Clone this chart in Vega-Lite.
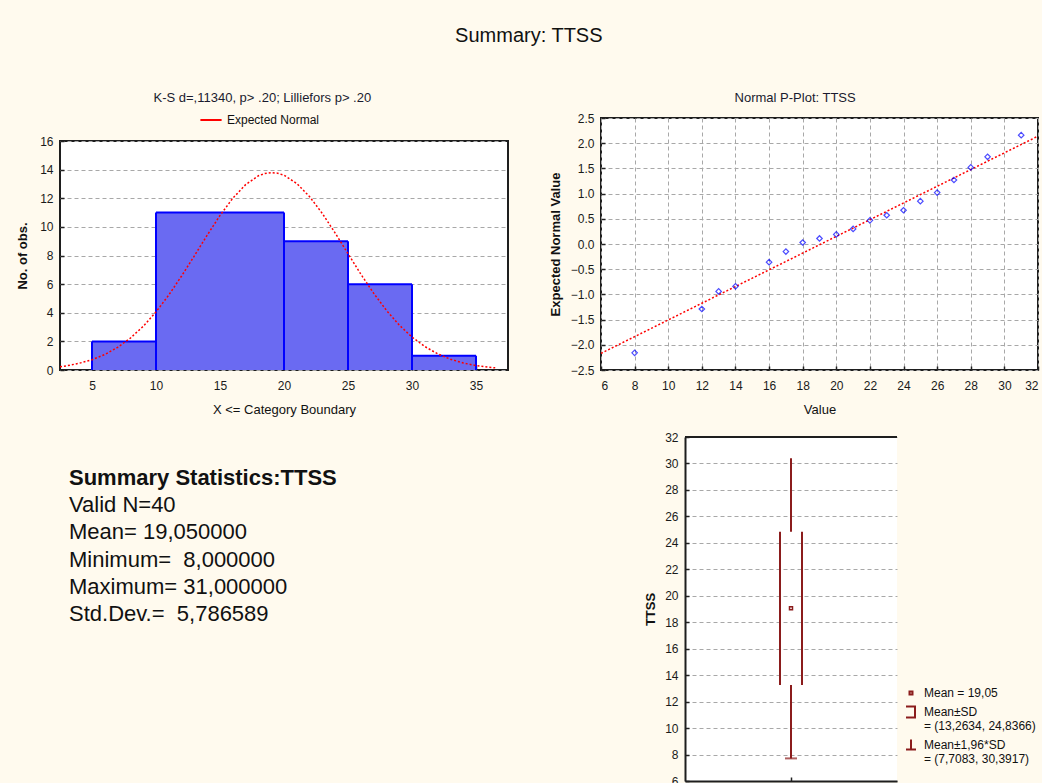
{
  "$schema": "https://vega.github.io/schema/vega-lite/v6.json",
  "background": "#fffaee",
  "padding": {"left": 15, "top": 26, "right": 0, "bottom": 0},
  "title": {"text": "Summary: TTSS", "fontSize": 20, "fontWeight": "normal", "font": "Liberation Sans", "color": "#111111", "anchor": "middle", "offset": 44},
  "datasets": {
    "hist": [
      {"lo": 5, "hi": 10, "n": 2},
      {"lo": 10, "hi": 15, "n": 11},
      {"lo": 15, "hi": 20, "n": 11},
      {"lo": 20, "hi": 25, "n": 9},
      {"lo": 25, "hi": 30, "n": 6},
      {"lo": 30, "hi": 35, "n": 1}
    ],
    "curve": [
      {"x": 2.5, "count": 0.23}, {"x": 3, "count": 0.29}, {"x": 4, "count": 0.47}, {"x": 5, "count": 0.72},
      {"x": 6, "count": 1.08}, {"x": 7, "count": 1.58}, {"x": 8, "count": 2.23}, {"x": 9, "count": 3.05},
      {"x": 10, "count": 4.06}, {"x": 11, "count": 5.24}, {"x": 12, "count": 6.57}, {"x": 13, "count": 7.98},
      {"x": 14, "count": 9.42}, {"x": 15, "count": 10.8}, {"x": 16, "count": 12.0}, {"x": 17, "count": 12.95},
      {"x": 18, "count": 13.57}, {"x": 18.5, "count": 13.73}, {"x": 19, "count": 13.79}, {"x": 19.5, "count": 13.75},
      {"x": 20, "count": 13.61}, {"x": 21, "count": 13.03}, {"x": 22, "count": 12.11}, {"x": 23, "count": 10.93},
      {"x": 24, "count": 9.57}, {"x": 25, "count": 8.13}, {"x": 26, "count": 6.7}, {"x": 27, "count": 5.37},
      {"x": 28, "count": 4.17}, {"x": 29, "count": 3.14}, {"x": 30, "count": 2.3}, {"x": 31, "count": 1.64},
      {"x": 32, "count": 1.13}, {"x": 33, "count": 0.75}, {"x": 34, "count": 0.49}, {"x": 35, "count": 0.31},
      {"x": 36, "count": 0.19}, {"x": 36.5, "count": 0.15}
    ],
    "pp": [
      {"value": 8, "z": -2.16}, {"value": 12, "z": -1.29}, {"value": 13, "z": -0.94}, {"value": 14, "z": -0.84},
      {"value": 16, "z": -0.36}, {"value": 17, "z": -0.15}, {"value": 18, "z": 0.03}, {"value": 19, "z": 0.11},
      {"value": 20, "z": 0.19}, {"value": 21, "z": 0.3}, {"value": 22, "z": 0.47}, {"value": 23, "z": 0.57},
      {"value": 24, "z": 0.67}, {"value": 25, "z": 0.85}, {"value": 26, "z": 1.02}, {"value": 27, "z": 1.27},
      {"value": 28, "z": 1.52}, {"value": 29, "z": 1.73}, {"value": 31, "z": 2.16}
    ],
    "fit": [{"value": 6, "z": -2.17}, {"value": 32, "z": 2.14}],
    "stats": [
      {"row": 1, "line": "Summary Statistics:TTSS"},
      {"row": 2, "line": "Valid N=40"},
      {"row": 3, "line": "Mean= 19,050000"},
      {"row": 4, "line": "Minimum=\u00a0 8,000000"},
      {"row": 5, "line": "Maximum= 31,000000"},
      {"row": 6, "line": "Std.Dev.=\u00a0 5,786589"}
    ],
    "box": [
      {"variable": "TTSS", "mean": 19.05, "sd_lo": 13.2634, "sd_hi": 24.8366, "ci_lo": 7.7083, "ci_hi": 30.3917}
    ]
  },
  "config": {
    "font": "Liberation Sans",
    "view": {"fill": "#ffffff", "stroke": "#1e1e1e", "strokeWidth": 2},
    "axis": {
      "domain": false, "labelFontSize": 12, "labelColor": "#1a1a1a", "labelFont": "Liberation Sans", "labelOverlap": false,
      "titleFontSize": 13, "titleColor": "#111111", "titleFontWeight": "normal", "titleFont": "Liberation Sans",
      "gridColor": "#a8a8a8", "gridDash": [4, 3], "gridWidth": 1, "tickCount": 40,
      "tickColor": "#222222", "tickSize": -4, "tickWidth": 1.5, "labelPadding": 11
    },
    "axisX": {"labelPadding": 14, "titlePadding": 12},
    "legend": {"labelFontSize": 12, "labelColor": "#111111", "labelFont": "Liberation Sans"},
    "title": {"fontSize": 13, "fontWeight": "normal", "color": "#1a1a2e", "font": "Liberation Sans"}
  },
  "resolve": {"scale": {"stroke": "independent", "shape": "independent"}, "legend": {"stroke": "independent", "shape": "independent"}},
  "spacing": 14,
  "vconcat": [
    {
      "spacing": 39,
      "resolve": {"scale": {"stroke": "independent", "shape": "independent"}, "legend": {"stroke": "independent", "shape": "independent"}},
      "hconcat": [
        {
          "spacing": 0,
          "resolve": {"scale": {"stroke": "independent", "shape": "independent"}, "legend": {"stroke": "independent", "shape": "independent"}},
          "vconcat": [
            {"width": 448, "height": 1, "view": {"stroke": null, "fill": null}, "data": {"values": []}, "mark": "point", "encoding": {}},
            {
              "width": 448, "height": 229,
              "title": {"text": "K-S d=,11340, p> .20; Lilliefors p> .20", "offset": 3, "frame": "bounds"},
              "layer": [
                {
                  "data": {"name": "hist"},
                  "mark": {"type": "bar", "fill": "#6a6af2", "strokeWidth": 0},
                  "encoding": {
                    "x": {"field": "lo", "type": "quantitative", "scale": {"domain": [2.5, 37.5], "nice": false, "zero": false},
                          "axis": {"values": [5, 10, 15, 20, 25, 30, 35], "format": "d", "grid": false, "title": "X <= Category Boundary"}},
                    "x2": {"field": "hi"},
                    "y": {"field": "n", "type": "quantitative", "scale": {"domain": [0, 16], "nice": false},
                          "axis": {"values": [0, 2, 4, 6, 8, 10, 12, 14, 16], "format": "d", "grid": true, "title": "No. of obs.", "titleFontWeight": "bold", "titlePadding": 10}},
                    "y2": {"datum": 0}
                  }
                },
                {
                  "data": {"name": "hist"},
                  "mark": {"type": "rule", "color": "#0000ff", "strokeWidth": 2},
                  "encoding": {
                    "x": {"field": "lo", "type": "quantitative"},
                    "x2": {"field": "hi"},
                    "y": {"field": "n", "type": "quantitative"}
                  }
                },
                {
                  "data": {"name": "hist"},
                  "transform": [
                    {"window": [{"op": "lag", "field": "n", "as": "prev"}], "sort": [{"field": "lo"}]},
                    {"filter": "datum.prev != datum.n"}
                  ],
                  "mark": {"type": "rule", "color": "#0000ff", "strokeWidth": 2},
                  "encoding": {
                    "x": {"field": "lo", "type": "quantitative"},
                    "y": {"field": "n", "type": "quantitative"},
                    "y2": {"datum": 0}
                  }
                },
                {
                  "data": {"name": "hist"},
                  "transform": [
                    {"window": [{"op": "lead", "field": "n", "as": "next"}], "sort": [{"field": "lo"}]},
                    {"filter": "datum.next != datum.n"}
                  ],
                  "mark": {"type": "rule", "color": "#0000ff", "strokeWidth": 2},
                  "encoding": {
                    "x": {"field": "hi", "type": "quantitative"},
                    "y": {"field": "n", "type": "quantitative"},
                    "y2": {"datum": 0}
                  }
                },
                {
                  "data": {"name": "curve"},
                  "mark": {"type": "line", "strokeDash": [2, 2], "strokeWidth": 1.5},
                  "encoding": {
                    "x": {"field": "x", "type": "quantitative"},
                    "y": {"field": "count", "type": "quantitative"},
                    "stroke": {"datum": "Expected Normal", "scale": {"range": ["#ff0000"]},
                               "legend": {"orient": "none", "legendX": 139, "legendY": -33, "title": null, "symbolType": "stroke", "symbolSize": 450, "symbolStrokeWidth": 2, "symbolDash": [], "direction": "vertical"}}
                  }
                }
              ]
            }
          ]
        },
        {
          "spacing": 0,
          "resolve": {"scale": {"stroke": "independent", "shape": "independent"}, "legend": {"stroke": "independent", "shape": "independent"}},
          "vconcat": [
            {"width": 437, "height": 1, "view": {"stroke": null, "fill": null}, "data": {"values": []}, "mark": "point", "encoding": {}},
            {
              "width": 437, "height": 252,
              "title": {"text": "Normal P-Plot: TTSS", "offset": 7, "frame": "bounds"},
              "layer": [
                {
                  "data": {"name": "fit"},
                  "mark": {"type": "line", "color": "#ff0000", "strokeDash": [2, 2], "strokeWidth": 1.5},
                  "encoding": {
                    "x": {"field": "value", "type": "quantitative", "scale": {"domain": [6, 32], "nice": false, "zero": false},
                          "axis": {"values": [6, 8, 10, 12, 14, 16, 18, 20, 22, 24, 26, 28, 30, 32], "format": "d", "grid": true, "title": "Value"}},
                    "y": {"field": "z", "type": "quantitative", "scale": {"domain": [-2.5, 2.5], "nice": false, "zero": false},
                          "axis": {"values": [-2.5, -2, -1.5, -1, -0.5, 0, 0.5, 1, 1.5, 2, 2.5], "format": ".1f", "grid": true, "title": "Expected Normal Value", "titleFontWeight": "bold", "titlePadding": 8}}
                  }
                },
                {
                  "data": {"name": "pp"},
                  "mark": {"type": "point", "shape": "diamond", "filled": false, "color": "#0000ff", "size": 30, "strokeWidth": 1.2},
                  "encoding": {
                    "x": {"field": "value", "type": "quantitative"},
                    "y": {"field": "z", "type": "quantitative"}
                  }
                }
              ]
            }
          ]
        }
      ]
    },
    {
      "spacing": 307,
      "resolve": {"scale": {"stroke": "independent", "shape": "independent"}, "legend": {"stroke": "independent", "shape": "independent"}},
      "hconcat": [
        {
          "width": 18, "height": 218,
          "view": {"stroke": null, "fill": null},
          "data": {"name": "stats"},
          "encoding": {
            "y": {"field": "row", "type": "quantitative", "axis": null, "scale": {"domain": [-0.5, 7.5], "reverse": true, "nice": false, "zero": false}},
            "text": {"field": "line"}
          },
          "layer": [
            {"transform": [{"filter": "datum.row == 1"}], "mark": {"type": "text", "align": "left", "baseline": "middle", "fontSize": 22, "fontWeight": "bold", "color": "#111111", "font": "Liberation Sans"}},
            {"transform": [{"filter": "datum.row > 1"}], "mark": {"type": "text", "align": "left", "baseline": "middle", "fontSize": 22, "fontWeight": "normal", "color": "#111111", "font": "Liberation Sans"}}
          ]
        },
        {
          "width": 212, "height": 344,
          "view": {"stroke": null},
          "data": {"name": "box"},
          "layer": [
            {
              "mark": {"type": "rule", "color": "#8b1c1c", "strokeWidth": 2},
              "encoding": {
                "x": {"field": "variable", "type": "nominal", "axis": {"labels": false, "title": null, "domain": true, "domainColor": "#1e1e1e", "domainWidth": 2, "grid": false}},
                "y": {"field": "sd_hi", "type": "quantitative", "scale": {"domain": [6, 32], "nice": false, "zero": false},
                      "axis": {"values": [6, 8, 10, 12, 14, 16, 18, 20, 22, 24, 26, 28, 30, 32], "format": "d", "grid": true, "title": "TTSS", "titleFontWeight": "bold", "titlePadding": 7, "domain": true, "domainColor": "#1e1e1e", "domainWidth": 2}},
                "y2": {"field": "ci_hi"}
              }
            },
            {
              "mark": {"type": "rule", "color": "#8b1c1c", "strokeWidth": 2},
              "encoding": {
                "x": {"field": "variable", "type": "nominal"},
                "y": {"field": "ci_lo", "type": "quantitative"},
                "y2": {"field": "sd_lo"}
              }
            },
            {
              "mark": {"type": "rule", "color": "#8b1c1c", "strokeWidth": 2, "xOffset": -11},
              "encoding": {
                "x": {"field": "variable", "type": "nominal"},
                "y": {"field": "sd_lo", "type": "quantitative"},
                "y2": {"field": "sd_hi"}
              }
            },
            {
              "mark": {"type": "rule", "color": "#8b1c1c", "strokeWidth": 2, "xOffset": 11},
              "encoding": {
                "x": {"field": "variable", "type": "nominal"},
                "y": {"field": "sd_lo", "type": "quantitative"},
                "y2": {"field": "sd_hi"}
              }
            },
            {
              "mark": {"type": "tick", "color": "#8b1c1c", "orient": "horizontal", "size": 12, "thickness": 2},
              "encoding": {
                "x": {"field": "variable", "type": "nominal"},
                "y": {"field": "ci_lo", "type": "quantitative"}
              }
            },
            {
              "mark": {"type": "point", "filled": false, "color": "#8b1c1c", "size": 100, "strokeWidth": 1.5, "opacity": 1},
              "encoding": {
                "x": {"field": "variable", "type": "nominal"},
                "y": {"field": "mean", "type": "quantitative"},
                "shape": {
                  "datum": "Mean = 19,05",
                  "scale": {
                    "domain": ["Mean = 19,05", "Mean±SD|= (13,2634, 24,8366)", "Mean±1,96*SD|= (7,7083, 30,3917)"],
                    "range": ["M-0.3,-0.3H0.3V0.3H-0.3Z", "M-1,-1.1H0.8V1.1H-1", "M0,-1.1V0.9M-1,0.9H1"]
                  },
                  "legend": {"orient": "none", "legendX": 220, "legendY": 250, "title": null, "direction": "vertical",
                             "labelExpr": "split(datum.label, '|')", "symbolSize": 100, "symbolStrokeColor": "#8b1c1c", "symbolFillColor": "transparent", "symbolStrokeWidth": 2, "rowPadding": 3, "labelOffset": 7, "labelLimit": 200}
                }
              }
            },
            {
              "mark": {"type": "rule", "color": "#1e1e1e", "strokeWidth": 2},
              "encoding": {"y": {"datum": 32, "type": "quantitative"}}
            }
          ]
        }
      ]
    }
  ]
}
